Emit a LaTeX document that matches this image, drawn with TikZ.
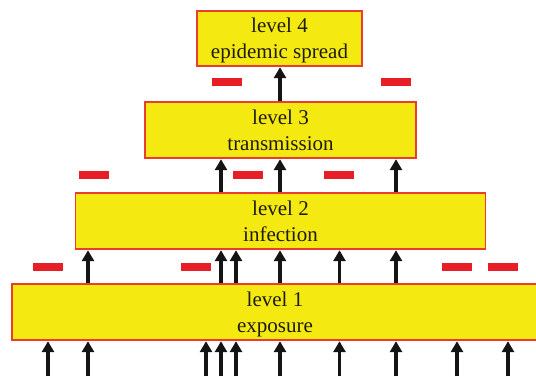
\documentclass[tikz,border=0pt]{standalone}
\usepackage{fontspec}
\setmainfont{Liberation Serif}
\usetikzlibrary{arrows.meta}
\definecolor{boxyellow}{RGB}{245,233,18}
\definecolor{boxred}{RGB}{236,60,50}
\definecolor{dashred}{RGB}{232,30,38}
\definecolor{txt}{RGB}{30,28,15}
\tikzset{
  levelbox/.style={draw=boxred, line width=1.2pt, fill=boxyellow, text=txt,
    align=center, inner sep=0pt, text height=46pt, text depth=6pt,
    font=\fontsize{21}{26}\selectfont},
  arr/.style={line width=3.6pt, black!92, -{Triangle[length=11pt,width=12pt]}, shorten >=0.6pt},
  inhib/.style={fill=dashred}
}
\begin{document}
\begin{tikzpicture}[x=1pt,y=-1pt]
\useasboundingbox (0,0) rectangle (536,376);
\node[levelbox, minimum width=526pt, minimum height=56pt] (l1) at (275,312) {level 1\\exposure};
\node[levelbox, minimum width=410pt, minimum height=56pt] (l2) at (280.5,221) {level 2\\infection};
\node[levelbox, minimum width=271pt, minimum height=56pt] (l3) at (280.5,130) {level 3\\transmission};
\node[levelbox, minimum width=165pt, minimum height=55pt] (l4) at (279.5,38.5) {level 4\\epidemic spread};
\coordinate (bot) at (0,376);
% arrows into level 1
\foreach \x in {48,88,206,221,236,280,339.5,396,457,508}
  \draw[arr] (\x,0 |- bot) -- (\x,0 |- l1.south);
% arrows level 1 -> level 2
\foreach \x in {88,221,236,280,339.5,396}
  \draw[arr] (\x,0 |- l1.north) -- (\x,0 |- l2.south);
% arrows level 2 -> level 3
\foreach \x in {221,280,396}
  \draw[arr] (\x,0 |- l2.north) -- (\x,0 |- l3.south);
% arrow level 3 -> level 4
\draw[arr] (280,0 |- l3.north) -- (280,0 |- l4.south);
% red inhibition dashes
\foreach \x/\y in {212/82, 380.5/82, 79/175, 232.5/175, 324/175, 33/267, 180.5/267, 442/267, 488/267}
  \fill[inhib] (\x,\y-4) rectangle ++(30,8);
\end{tikzpicture}
\end{document}
